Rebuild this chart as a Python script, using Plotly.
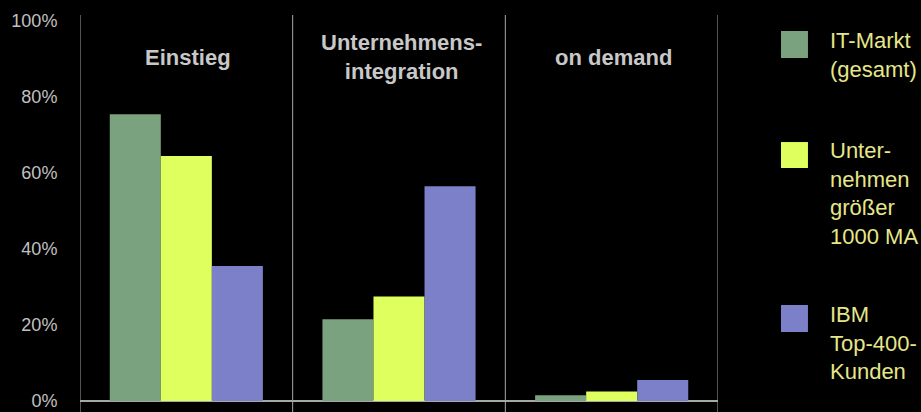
import plotly.graph_objects as go

categories = ["Einstieg", "Unternehmens-<br>integration", "on demand"]
series_names = ["IT-Markt<br>(gesamt)", "Unter-<br>nehmen<br>größer<br>1000 MA", "IBM<br>Top-400-<br>Kunden"]
it_markt = [75.5, 21.5, 1.5]
unternehmen = [64.5, 27.5, 2.5]
ibm_top400 = [35.5, 56.5, 5.5]
series_values = [it_markt, unternehmen, ibm_top400]
colors = ["#7BA27F", "#DFFF5F", "#7B80C8"]
y_ticks = [0, 20, 40, 60, 80, 100]
y_tick_labels = ["0%", "20%", "40%", "60%", "80%", "100%"]

FONT = "Liberation Sans"
x_idx = list(range(len(categories)))

fig = go.Figure()
for name, vals, col in zip(series_names, series_values, colors):
    fig.add_trace(go.Bar(x=x_idx, y=vals, name=name, marker=dict(color=col, line=dict(width=0)),
                         hoverinfo="skip", showlegend=False))

shapes = []
# separators between categories
for b in [i - 0.5 for i in x_idx] + [x_idx[-1] + 0.5]:
    shapes.append(dict(type="line", xref="x", yref="paper", x0=b, x1=b, y0=0, y1=1,
                       line=dict(color="#A8A8A8", width=1)))

# custom legend
legend_sq = [(0.9597, 0.8917), (0.680, 0.6146), (0.2695, 0.2015)]
legend_txt_y = [0.898, 0.5516, 0.175]
annotations = []
for (y1, y0), ty, col, name in zip(legend_sq, legend_txt_y, colors, series_names):
    shapes.append(dict(type="rect", xref="paper", yref="paper", x0=1.0987, x1=1.141, y0=y0, y1=y1,
                       fillcolor=col, line=dict(width=0)))
    annotations.append(dict(xref="paper", yref="paper", x=1.1724, y=ty, text=name, showarrow=False,
                            xanchor="left", yanchor="middle", align="left",
                            font=dict(family=FONT, size=22, color="#E6E68A")))

for i, c in zip(x_idx, categories):
    annotations.append(dict(xref="x", yref="y", x=i + 0.01, y=90.5, text="<b>" + c + "</b>", showarrow=False,
                            xanchor="center", yanchor="middle", align="center",
                            font=dict(family=FONT, size=22, color="#C8C8C8")))

fig.update_layout(
    width=921, height=412,
    margin=dict(l=80, r=203, t=15, b=0),
    paper_bgcolor="black", plot_bgcolor="black",
    barmode="group", bargap=0.28, bargroupgap=0,
    shapes=shapes, annotations=annotations,
    showlegend=False,
    font=dict(family=FONT, color="#C0C0C0"),
    xaxis=dict(range=[-0.5, 2.5], showgrid=False, zeroline=False, showticklabels=False,
               showline=False, fixedrange=True),
    yaxis=dict(range=[-2.9, 101.6], tickmode="array", tickvals=y_ticks, ticktext=y_tick_labels,
               showgrid=False, zeroline=True, zerolinecolor="#A8A8A8", zerolinewidth=1.5,
               showline=False, ticks="outside", ticklen=18, tickcolor="black",
               tickfont=dict(family=FONT, size=18, color="#C0C0C0"),
               fixedrange=True),
)

fig.write_html("out.html")
